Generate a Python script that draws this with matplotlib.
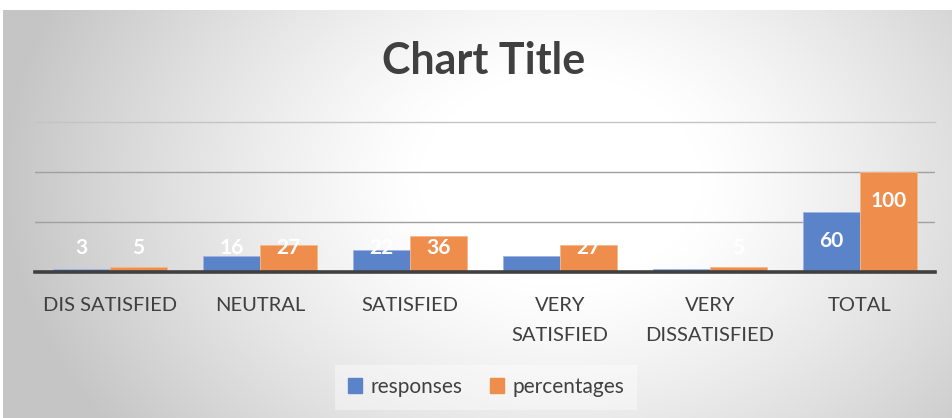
import numpy as np
import matplotlib
matplotlib.use("Agg")
import matplotlib.pyplot as plt
from matplotlib.patches import Patch

# data
categories = ["DIS SATISFIED", "NEUTRAL", "SATISFIED", "VERY\nSATISFIED", "VERY\nDISSATISFIED", "TOTAL"]
responses = [3, 16, 22, 16, 3, 60]
percentages = [5, 27, 36, 27, 5, 100]
series_names = ["responses", "percentages"]

blue = "#5B83CA"
orange = "#EE8D4C"
text_col = "#404040"

plt.rcParams["font.family"] = ["Lato", "DejaVu Sans"]

W, H = 953, 418
fig = plt.figure(figsize=(W / 100, H / 100), dpi=100)

# radial gradient background of the chart area
bg = fig.add_axes([0, 0, 1, 1], zorder=0)
yy, xx = np.mgrid[0:H, 0:W]
r = np.sqrt(((xx - 560) / 560.0) ** 2 + ((yy - 180) / 420.0) ** 2)
shade = 255 - 58 * np.clip((r - 0.25) / 0.75, 0, 1) ** 1.2
shade[:10, :] = 255   # white margin above the chart
shade[:, :3] = 255    # white margin left of the chart
img = np.dstack([shade, shade, shade]).astype(np.uint8)
bg.imshow(img, extent=(0, W, H, 0), aspect="auto", interpolation="bilinear")
bg.axis("off")

# plot area
ax = fig.add_axes([35 / W, (H - 272) / H, 900 / W, 150 / H], zorder=1)
ax.patch.set_alpha(0)

x = np.arange(len(categories))
w = 0.377
ax.bar(x - w / 2, responses, w, color=blue, edgecolor="#9db5e0", linewidth=0.6, zorder=2)
ax.bar(x + w / 2, percentages, w, color=orange, edgecolor="#f5b78c", linewidth=0.6, zorder=2)

ax.set_xlim(-0.5, len(categories) - 0.5)
ax.set_ylim(0, 150)
ax.axhline(50, color="#a0a0a0", linewidth=1.0, zorder=0)
ax.axhline(100, color="#a0a0a0", linewidth=1.0, zorder=0)
ax.axhline(150, color="#c4c4c4", linewidth=1.0, zorder=0, clip_on=False)
ax.set_yticks([])
for s in ["top", "right", "left"]:
    ax.spines[s].set_visible(False)
ax.spines["bottom"].set_color(text_col)
ax.spines["bottom"].set_linewidth(2.6)
ax.spines["bottom"].set_zorder(3)

ax.set_xticks(x)
ax.set_xticklabels(categories, fontsize=14.5, color=text_col, linespacing=1.95, va="top")
ax.tick_params(axis="x", length=0, pad=18)
for lbl in ax.get_xticklabels():
    lbl.set_va("top")

# data labels (inside end, kept above the axis)
for xs, vals in [(x - w / 2, responses), (x + w / 2, percentages)]:
    for xi, v in zip(xs, vals):
        ax.text(xi, max(v - 29, 24), str(v), ha="center", va="center",
                color="white", fontsize=15, fontweight="bold", zorder=4)

fig.text(484 / W, 1 - 61 / H, "Chart Title", ha="center", va="center",
         fontsize=31, fontweight="bold", color=text_col)

handles = [Patch(facecolor=blue, edgecolor=blue), Patch(facecolor=orange, edgecolor=orange)]
leg = fig.legend(handles, series_names, loc="center", bbox_to_anchor=(486 / W, 1 - 387 / H),
                 ncol=2, frameon=True, fontsize=15, handlelength=0.7, handleheight=0.7,
                 handletextpad=0.4, columnspacing=1.3, borderpad=0.6)
leg.get_frame().set_facecolor("white")
leg.get_frame().set_alpha(0.4)
leg.get_frame().set_edgecolor("none")
leg.get_frame().set_boxstyle("square", pad=0)
for t in leg.get_texts():
    t.set_color(text_col)

fig.savefig("out.png", dpi=100)
